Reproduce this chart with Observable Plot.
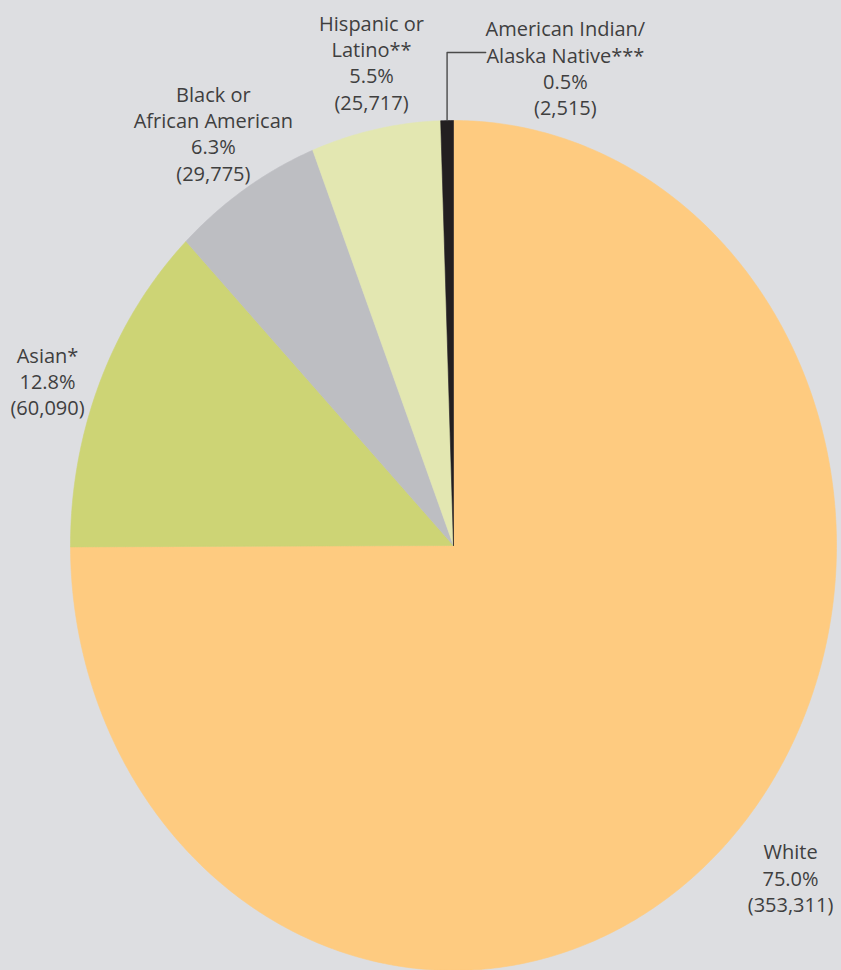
<!DOCTYPE html>
<html><head><meta charset="utf-8">
<script src="https://cdn.jsdelivr.net/npm/d3@7"></script>
<script src="https://cdn.jsdelivr.net/npm/@observablehq/plot@0.6"></script>
<style>
html,body{margin:0;padding:0;background:#DDDEE1;}
#chart{width:841px;height:970px;}
#chart svg{display:block;}
</style></head><body><div id="chart"></div>
<script>
// ---- data ----
const keys = ["White", "Asian", "Black", "Hispanic", "AIAN"];
const groupLabels = ["White", "Asian*", "Black or\nAfrican American", "Hispanic or\nLatino**", "American Indian/\nAlaska Native***"];
const counts = [353311, 60090, 29775, 25717, 2515];
const percentLabels = ["75.0%", "12.8%", "6.3%", "5.5%", "0.5%"];
const countLabels = ["(353,311)", "(60,090)", "(29,775)", "(25,717)", "(2,515)"];

// ---- styling / layout (not data) ----
const colors = ["#FECB80", "#CDD475", "#BDBEC2", "#E3E7B1", "#231F20"];
// label anchor points in pie-unit coordinates (x: -1..1, y: -1..1)
const labelAnchor = {
  White: [0.880, -0.781],
  Asian: [-1.060, 0.388],
  Black: [-0.627, 0.971],
  Hispanic: [-0.214, 1.138],
  AIAN: [0.292, 1.125]
};
const leaderLevel = 1.16, leaderEndX = 0.084;

const rows = keys.map((k, i) => ({key: k, count: counts[i],
  text: groupLabels[i] + "\n" + percentLabels[i] + "\n" + countLabels[i]}));

const arcs = d3.pie().sort(null).value(d => d.count).startAngle(0).endAngle(2 * Math.PI)(rows);

// build slice polygons from the pie angles
const slicePts = [];
for (const a of arcs) {
  const n = Math.max(2, Math.ceil((a.endAngle - a.startAngle) / (Math.PI / 360)));
  slicePts.push({key: a.data.key, x: 0, y: 0});
  for (let j = 0; j <= n; j++) {
    const t = a.startAngle + (a.endAngle - a.startAngle) * j / n;
    slicePts.push({key: a.data.key, x: Math.sin(t), y: Math.cos(t)});
  }
  slicePts.push({key: a.data.key, x: 0, y: 0});
}

const labels = rows.map(r => ({key: r.key, x: labelAnchor[r.key][0], y: labelAnchor[r.key][1], text: r.text}));

const aian = arcs.find(a => a.data.key === "AIAN");
const mid = (aian.startAngle + aian.endAngle) / 2;
const leader = [
  {x: Math.sin(mid), y: Math.cos(mid)},
  {x: Math.sin(mid), y: leaderLevel},
  {x: leaderEndX, y: leaderLevel}
];

const chart = Plot.plot({
  width: 841,
  height: 970,
  marginLeft: 70,
  marginRight: 5,
  marginTop: 120,
  marginBottom: 0,
  style: {background: "transparent", overflow: "visible"},
  x: {domain: [-1, 1], axis: null},
  y: {domain: [-1, 1], axis: null},
  color: {domain: keys, range: colors},
  marks: [
    Plot.line(slicePts, {x: "x", y: "y", z: "key", fill: "key", stroke: "key", strokeWidth: 0.6, curve: "linear"}),
    Plot.line(leader, {x: "x", y: "y", stroke: "#4a4a4a", strokeWidth: 1.4}),
    Plot.text(labels, {x: "x", y: "y", text: "text", fontSize: 20, lineHeight: 1.32,
      fill: "#3f3f3f", textAnchor: "middle", fontFamily: "'Open Sans', sans-serif"})
  ]
});
document.getElementById("chart").appendChild(chart);
</script>
</body></html>
